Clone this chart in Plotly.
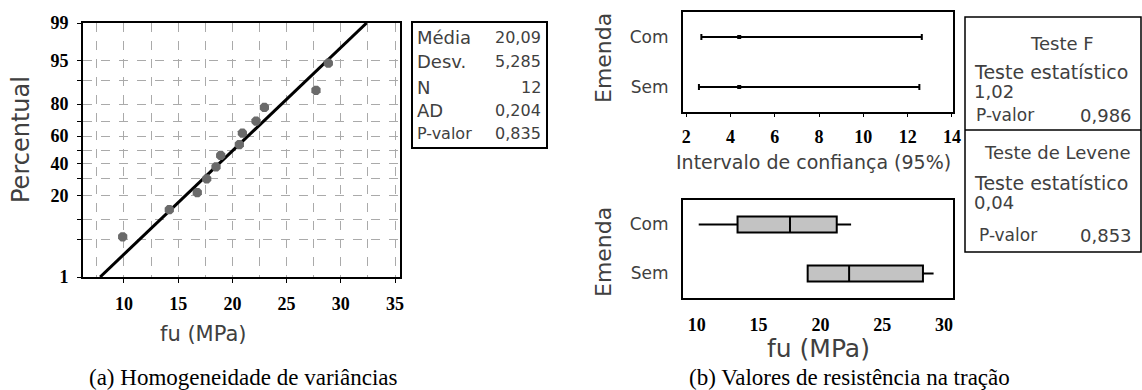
import plotly.graph_objects as go
from statistics import NormalDist

# ---------------- Data: panel (a) probability plot ----------------
fu_obs = [9.88, 14.18, 16.76, 17.63, 18.49, 18.92, 20.64, 20.92, 22.18, 22.95, 27.71, 28.85]
pct_obs = [5.6, 13.7, 21.8, 29.8, 37.9, 46.0, 54.0, 62.1, 70.2, 78.2, 86.3, 94.4]
fit_fu = [7.80, 32.38]
fit_pct = [1, 99]
pct_labeled = [1, 20, 40, 60, 80, 95, 99]
pct_minor = [5, 10, 30, 50, 70, 90]
x_ticks_a = [10, 15, 20, 25, 30, 35]
x_minor_a = [7.5, 12.5, 17.5, 22.5, 27.5, 32.5]
stats_labels = ["Média", "Desv.", "N", "AD", "P-valor"]
stats_values = ["20,09", "5,285", "12", "0,204", "0,835"]

# ---------------- Data: panel (b) ----------------
groups = ["Com", "Sem"]
ci_low = [2.68, 2.57]
ci_sd = [4.39, 4.39]
ci_high = [12.64, 12.53]
box_min = [10.16, 18.97]
box_q1 = [13.30, 18.97]
box_med = [17.54, 22.32]
box_q3 = [21.32, 28.29]
box_max = [22.48, 29.15]
ci_ticks = [2, 4, 6, 8, 10, 12, 14]
box_ticks = [10, 15, 20, 25, 30]

W, H = 1142, 390


def fx(px):
    return px / W


def fy(py):
    return 1 - py / H


nd = NormalDist()


def z(p):
    return nd.inv_cdf(p / 100.0)


SANS = "DejaVu Sans"
SERIF = "Liberation Serif"
TXT = "#404040"
tickfont_b = dict(family=SERIF, size=18, color="black", weight="bold")

fig = go.Figure()

# Panel (a)
fig.add_trace(go.Scatter(
    x=fit_fu, y=[z(p) for p in fit_pct], mode="lines",
    line=dict(color="black", width=3), xaxis="x", yaxis="y", showlegend=False))
fig.add_trace(go.Scatter(
    x=fu_obs, y=[z(p) for p in pct_obs], mode="markers",
    marker=dict(symbol="octagon", size=10, color="#6a6a6a"),
    xaxis="x", yaxis="y", showlegend=False))

# Panel (b) top: confidence intervals
fig.add_trace(go.Scatter(
    x=ci_sd, y=groups, mode="markers",
    marker=dict(symbol="square", size=4, color="black"),
    error_x=dict(type="data", symmetric=False,
                 array=[h - s for h, s in zip(ci_high, ci_sd)],
                 arrayminus=[s - l for s, l in zip(ci_sd, ci_low)],
                 color="black", thickness=2, width=3),
    xaxis="x2", yaxis="y2", showlegend=False))

# Panel (b) bottom: boxplots
fig.add_trace(go.Box(
    y=groups, q1=box_q1, median=box_med, q3=box_q3,
    lowerfence=box_min, upperfence=box_max, orientation="h",
    fillcolor="#c3c3c3", line=dict(color="black", width=2),
    whiskerwidth=0, width=0.33, xaxis="x3", yaxis="y3", showlegend=False,
    boxpoints=False))

grid_a = dict(showgrid=True, gridcolor="#aaaaaa", griddash="dash", gridwidth=1)

fig.update_layout(
    width=W, height=H, margin=dict(l=0, r=0, t=0, b=0, autoexpand=False),
    paper_bgcolor="white", plot_bgcolor="white", showlegend=False,
    hovermode=False,
    xaxis=dict(domain=[fx(83), fx(400)], range=[6.22, 35.46],
               tickmode="array", tickvals=x_ticks_a,
               ticks="outside", ticklen=4, tickcolor="black",
               showline=True, mirror=True, linecolor="black", linewidth=2,
               tickfont=tickfont_b, ticklabelstandoff=5, zeroline=False,
               minor=dict(tickmode="array", tickvals=x_minor_a, ticks="", **grid_a),
               **grid_a, anchor="y"),
    yaxis=dict(domain=[fy(277), fy(23)], range=[z(1), z(99)],
               tickmode="array", tickvals=[z(p) for p in pct_labeled],
               ticktext=[str(p) for p in pct_labeled],
               ticks="outside", ticklen=4, tickcolor="black",
               showline=True, mirror=True, linecolor="black", linewidth=2,
               tickfont=tickfont_b, ticklabelstandoff=5, zeroline=False,
               minor=dict(tickmode="array", tickvals=[z(p) for p in pct_minor],
                          ticks="outside", ticklen=4, tickcolor="black", **grid_a),
               **grid_a, anchor="x"),
    xaxis2=dict(domain=[fx(683), fx(953)], range=[1.85, 14.05],
                tickmode="array", tickvals=ci_ticks,
                ticks="outside", ticklen=3, tickcolor="black",
                showline=True, mirror=True, linecolor="black", linewidth=2,
                showgrid=False, zeroline=False, tickfont=tickfont_b,
                ticklabelstandoff=4, anchor="y2"),
    yaxis2=dict(domain=[fy(112), fy(12)], type="category",
                categoryorder="array", categoryarray=groups[::-1],
                range=[-0.5, 1.5], showline=True, mirror=True,
                linecolor="black", linewidth=2, showgrid=False, ticks="",
                tickfont=dict(family=SANS, size=17, color=TXT),
                ticklabelstandoff=9, anchor="x2"),
    xaxis3=dict(domain=[fx(683), fx(953)], range=[8.89, 30.72],
                tickmode="array", tickvals=box_ticks,
                ticks="", showline=True, mirror=True, linecolor="black",
                linewidth=2, showgrid=False, zeroline=False,
                tickfont=tickfont_b, ticklabelstandoff=9, anchor="y3"),
    yaxis3=dict(domain=[fy(298), fy(200)], type="category",
                categoryorder="array", categoryarray=groups[::-1],
                range=[-0.5, 1.5], showline=True, mirror=True,
                linecolor="black", linewidth=2, showgrid=False, ticks="",
                tickfont=dict(family=SANS, size=17, color=TXT),
                ticklabelstandoff=9, anchor="x3"),
)

ann = []


def add(text, px, py, size, family=SANS, color=TXT, xanchor="center", angle=0):
    ann.append(dict(text=text, x=fx(px), y=fy(py), xref="paper", yref="paper",
                    showarrow=False, xanchor=xanchor, yanchor="middle",
                    textangle=angle, font=dict(family=family, size=size, color=color)))


add("Percentual", 21, 140, 24, angle=-90)
add("fu (MPa)", 203, 334, 21)
add("(a) Homogeneidade de variâncias", 243, 377, 23, family=SERIF, color="black")
add("(b) Valores de resistência na tração", 849, 377, 23, family=SERIF, color="black")
add("Emenda", 603, 58, 22, angle=-90)
add("Emenda", 603, 252, 22, angle=-90)
add("Intervalo de confiança (95%)", 813, 162, 19)
add("fu (MPa)", 818, 348, 25)

# stats box (a)
rows_y = [38, 61, 87, 110, 133]
for lab, val, yy in zip(stats_labels, stats_values, rows_y):
    add(lab, 415, yy, 18 if lab != "P-valor" else 16, xanchor="left")
    add(val, 543, yy, 16, xanchor="right")

# stats box (b)
add("Teste F", 1062, 43, 18)
add("Teste estatístico", 972, 72, 19, xanchor="left")
add("1,02", 972, 91, 18, xanchor="left")
add("P-valor", 974, 115, 17, xanchor="left")
add("0,986", 1134, 115, 18, xanchor="right")
add("Teste de Levene", 1057, 153, 18)
add("Teste estatístico", 972, 183, 19, xanchor="left")
add("0,04", 972, 202, 18, xanchor="left")
add("P-valor", 977, 235, 17, xanchor="left")
add("0,853", 1134, 235, 18, xanchor="right")

fig.update_layout(annotations=ann)

shapes = [
    dict(type="rect", xref="paper", yref="paper", x0=fx(412), x1=fx(547),
         y0=fy(148), y1=fy(22), line=dict(color="black", width=2)),
    dict(type="rect", xref="paper", yref="paper", x0=fx(965), x1=fx(1141),
         y0=fy(252), y1=fy(17), line=dict(color="black", width=1.5)),
    dict(type="line", xref="paper", yref="paper", x0=fx(965), x1=fx(1141),
         y0=fy(130), y1=fy(130), line=dict(color="black", width=1.5)),
]
fig.update_layout(shapes=shapes)

fig.write_html(
    "out.html",
    config={"displayModeBar": False, "staticPlot": True},
    post_script="document.body.style.margin='0';document.body.style.padding='0';"
                "document.body.style.overflow='hidden';",
)
